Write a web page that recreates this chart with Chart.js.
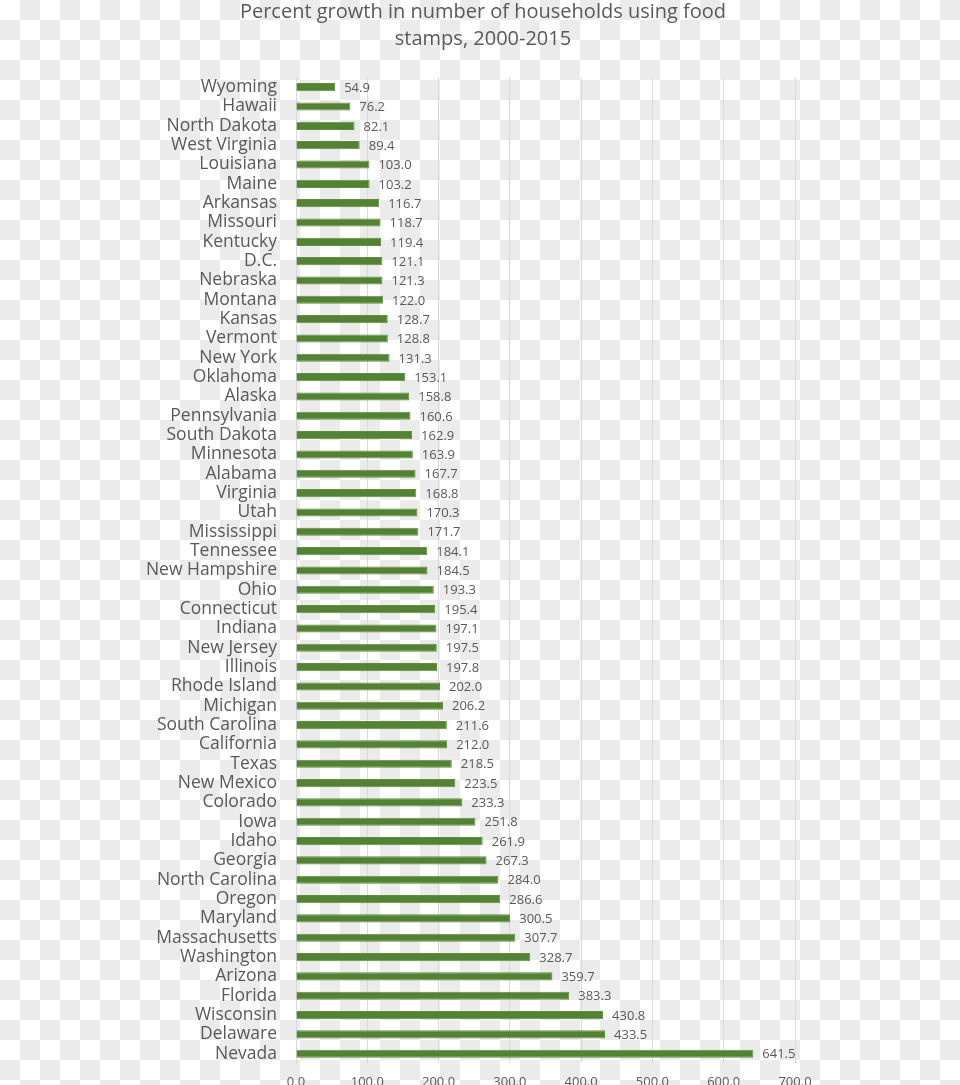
<!DOCTYPE html>
<html>
<head>
<meta charset="utf-8">
<script src="https://cdn.jsdelivr.net/npm/chart.js@4.4.1/dist/chart.umd.min.js"></script>
<style>
  html, body { margin: 0; padding: 0; overflow: hidden; width: 960px; height: 1085px;
    background-color: #ffffff;
    background-image: repeating-conic-gradient(#ebebeb 0 25%, #ffffff 0 50%);
    background-size: 40px 40px; background-position: 0 0; }
  #wrap { position: absolute; left: 0; top: 0; width: 960px; height: 1101px; }
</style>
</head>
<body>
<div id="wrap"><canvas id="c"></canvas></div>
<script>
const states = ["Wyoming","Hawaii","North Dakota","West Virginia","Louisiana","Maine","Arkansas","Missouri","Kentucky","D.C.","Nebraska","Montana","Kansas","Vermont","New York","Oklahoma","Alaska","Pennsylvania","South Dakota","Minnesota","Alabama","Virginia","Utah","Mississippi","Tennessee","New Hampshire","Ohio","Connecticut","Indiana","New Jersey","Illinois","Rhode Island","Michigan","South Carolina","California","Texas","New Mexico","Colorado","Iowa","Idaho","Georgia","North Carolina","Oregon","Maryland","Massachusetts","Washington","Arizona","Florida","Wisconsin","Delaware","Nevada"];
const growth = [54.9,76.2,82.1,89.4,103.0,103.2,116.7,118.7,119.4,121.1,121.3,122.0,128.7,128.8,131.3,153.1,158.8,160.6,162.9,163.9,167.7,168.8,170.3,171.7,184.1,184.5,193.3,195.4,197.1,197.5,197.8,202.0,206.2,211.6,212.0,218.5,223.5,233.3,251.8,261.9,267.3,284.0,286.6,300.5,307.7,328.7,359.7,383.3,430.8,433.5,641.5];
const xTicks = [0,100,200,300,400,500,600,700];
const titleLines = ["Percent growth in number of households using food", "stamps, 2000-2015"];

const FONT = "'Open Sans', Lato, sans-serif";
const TEXT = "#595959";

const valueLabels = {
  id: 'valueLabels',
  afterDatasetsDraw(chart) {
    const ctx = chart.ctx;
    const meta = chart.getDatasetMeta(0);
    ctx.save();
    ctx.font = "13px " + FONT;
    ctx.fillStyle = TEXT;
    ctx.textBaseline = 'middle';
    ctx.textAlign = 'left';
    meta.data.forEach((el, i) => {
      ctx.fillText(growth[i].toFixed(1), el.x + 9, el.y + 1);
    });
    ctx.restore();
  }
};

const centeredTitle = {
  id: 'centeredTitle',
  afterDraw(chart) {
    const ctx = chart.ctx;
    ctx.save();
    ctx.font = "20px " + FONT;
    ctx.fillStyle = TEXT;
    ctx.textAlign = 'center';
    ctx.textBaseline = 'middle';
    ctx.fillText(titleLines[0], 483, 12);
    ctx.fillText(titleLines[1], 483, 39);
    ctx.restore();
  }
};

new Chart(document.getElementById('c'), {
  type: 'bar',
  data: {
    labels: states,
    datasets: [{
      data: growth,
      backgroundColor: '#548235',
      borderColor: '#5f8f3e',
      borderWidth: 1,
      barPercentage: 0.42,
      categoryPercentage: 1.0
    }]
  },
  options: {
    indexAxis: 'y',
    responsive: true,
    maintainAspectRatio: false,
    animation: false,
    layout: { padding: { left: 120, right: 165, top: 77.5, bottom: 0 } },
    plugins: {
      legend: { display: false },
      tooltip: { enabled: false },
      title: { display: false }
    },
    scales: {
      x: {
        min: 0, max: 700,
        afterBuildTicks(scale) { scale.ticks = xTicks.map(v => ({ value: v })); },
        ticks: {
          callback: (v) => Number(v).toFixed(1),
          color: TEXT,
          font: { family: FONT, size: 13 },
          padding: 11,
          maxRotation: 0
        },
        grid: { color: '#d9d9d9', drawTicks: false },
        border: { display: false }
      },
      y: {
        afterFit(scale) { scale.width = 176; },
        ticks: {
          color: TEXT,
          font: { family: FONT, size: 17.5 },
          padding: 19,
          autoSkip: false
        },
        grid: { display: false, drawTicks: false },
        border: { display: true, color: '#d9d9d9' }
      }
    }
  },
  plugins: [valueLabels, centeredTitle]
});
</script>
</body>
</html>
